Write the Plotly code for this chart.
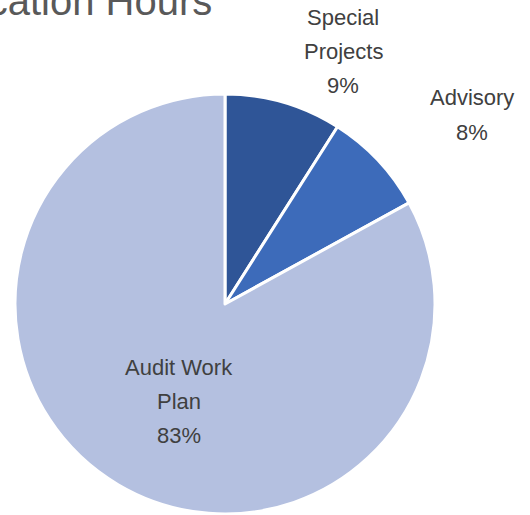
import plotly.graph_objects as go

# ---- data ----
categories = ["Special<br>Projects", "Advisory", "Audit Work<br>Plan"]
values = [9, 8, 83]
colors = ["#2F5597", "#3D6BBA", "#B4C0E0"]
title_text = "Allocation Hours"

W, H = 530, 515
total = sum(values)
pcts = [f"{round(v / total * 100)}%" for v in values]

fig = go.Figure(go.Pie(
    labels=[c.replace("<br>", " ") for c in categories],
    values=values,
    sort=False,
    direction="clockwise",
    rotation=0,
    marker=dict(colors=colors, line=dict(color="white", width=3)),
    textinfo="none",
    hoverinfo="label+percent",
    domain=dict(x=[(225 - 210) / W, (225 + 210) / W],
                y=[(H - 304 - 210) / H, (H - 304 + 210) / H]),
    showlegend=False,
))

# label block centres (pixels from top-left) and line spacing
label_pos = [(343, 51), (472, 115), (179, 401)]
line_gap = 34
label_font = dict(family="Liberation Sans, Arial", size=22, color="#404040")

annotations = []
for cat, pct, (cx, cy) in zip(categories, pcts, label_pos):
    lines = cat.split("<br>") + [pct]
    n = len(lines)
    for i, ln in enumerate(lines):
        yy = cy + (i - (n - 1) / 2) * line_gap
        annotations.append(dict(
            text=ln, x=cx / W, y=1 - yy / H, xref="paper", yref="paper",
            xanchor="center", yanchor="middle", showarrow=False, font=label_font))

annotations.append(dict(
    text=title_text, x=214 / W, y=1 - 25 / H, xref="paper", yref="paper",
    xanchor="right", yanchor="bottom", showarrow=False,
    font=dict(family="Liberation Sans, Arial", size=40, color="#595959")))

fig.update_layout(
    width=W, height=H,
    margin=dict(l=0, r=0, t=0, b=0),
    paper_bgcolor="white", plot_bgcolor="white",
    annotations=annotations,
)

fig.write_html("out.html")
